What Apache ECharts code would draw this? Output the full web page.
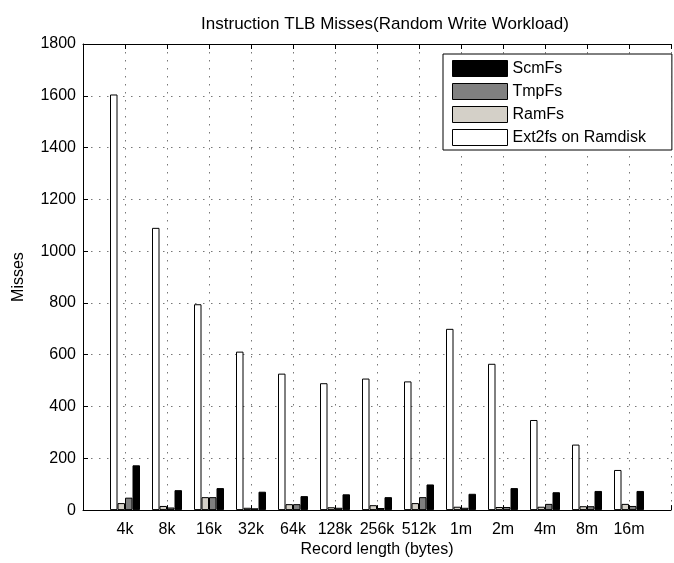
<!DOCTYPE html>
<html>
<head>
<meta charset="utf-8">
<script src="https://cdn.jsdelivr.net/npm/echarts@6/dist/echarts.min.js"></script>
<style>
  html, body { margin: 0; padding: 0; background: #fff; }
  #box { width: 674px; height: 563px; }
</style>
</head>
<body>
<div id="box"></div>
<script>
var chart = echarts.init(document.getElementById('box'));

// record sizes (blank slots pad the axis like matlab's xlim [0 14])
var categories = ['', '4k', '8k', '16k', '32k', '64k', '128k', '256k', '512k', '1m', '2m', '4m', '8m', '16m', ''];
var ext2fs = [null, 1605, 1090, 795, 612, 527, 490, 508, 497, 700, 565, 348, 253, 155, null];
var ramfs  = [null, 27, 16, 50, 9, 23, 11, 19, 27, 13, 12, 13, 15, 24, null];
var tmpfs  = [null, 48, 10, 50, 7, 23, 9, 8, 50, 9, 12, 24, 15, 16, null];
var scmfs  = [null, 173, 77, 85, 71, 54, 61, 50, 99, 63, 85, 69, 74, 74, null];
var yTicks = { min: 0, max: 1800, step: 200 };

var font = 'Liberation Sans, Arial, sans-serif';
var dotted = { color: '#777', width: 1, type: [1.5, 6.5] };

function bar(name, data, color) {
  return {
    name: name,
    type: 'bar',
    data: data,
    barWidth: 7.5,
    barGap: '0%',
    itemStyle: { color: color, borderColor: '#000', borderWidth: 1 },
    animation: false
  };
}

option = {
  animation: false,
  title: {
    text: 'Instruction TLB Misses(Random Write Workload)',
    left: 380,
    textAlign: 'center',
    top: 11,
    textStyle: { fontFamily: font, fontSize: 17, fontWeight: 'normal', color: '#000' }
  },
  legend: {
    orient: 'vertical',
    left: 443,
    top: 54,
    data: ['ScmFs', 'TmpFs', 'RamFs', 'Ext2fs on Ramdisk'],
    itemWidth: 55,
    itemHeight: 16,
    itemGap: 6,
    padding: [6, 26, 4, 9],
    borderColor: '#000',
    borderWidth: 1,
    backgroundColor: '#fff',
    itemStyle: { borderColor: '#000', borderWidth: 1 },
    textStyle: { fontFamily: font, fontSize: 16, color: '#000' },
    icon: 'rect'
  },
  grid: {
    left: 83,
    top: 44,
    right: -5,
    bottom: 48
  },
  xAxis: [{
    type: 'category',
    data: categories,
    boundaryGap: false,
    name: 'Record length (bytes)',
    nameLocation: 'middle',
    nameGap: 29,
    nameTextStyle: { fontFamily: font, fontSize: 16, color: '#000' },
    axisLine: { lineStyle: { color: '#000', width: 1 } },
    axisTick: { inside: true, length: 5, interval: 0, lineStyle: { color: '#000' } },
    axisLabel: { interval: 0, fontFamily: font, fontSize: 16, color: '#000', margin: 11 },
    splitLine: { show: true, interval: 0, lineStyle: dotted }
  }, {
    type: 'category',
    data: categories,
    boundaryGap: false,
    position: 'top',
    axisLine: { lineStyle: { color: '#000', width: 1 } },
    axisTick: { inside: true, length: 5, interval: 0, lineStyle: { color: '#000' } },
    axisLabel: { show: false },
    splitLine: { show: false }
  }],
  yAxis: {
    type: 'value',
    min: yTicks.min,
    max: yTicks.max,
    interval: yTicks.step,
    name: 'Misses',
    nameLocation: 'middle',
    nameGap: 56,
    nameTextStyle: { fontFamily: font, fontSize: 16, color: '#000' },
    axisLine: { show: true, lineStyle: { color: '#000', width: 1 } },
    axisTick: { show: true, inside: true, length: 5, lineStyle: { color: '#000' } },
    axisLabel: {
      fontFamily: font, fontSize: 16, color: '#000', margin: 7,
      formatter: function (v) { return String(v); }
    },
    splitLine: { show: true, lineStyle: dotted }
  },
  series: [
    bar('Ext2fs on Ramdisk', ext2fs, '#ffffff'),
    bar('RamFs', ramfs, '#d4d0c8'),
    bar('TmpFs', tmpfs, '#808080'),
    bar('ScmFs', scmfs, '#000000')
  ]
};

chart.setOption(option);
</script>
</body>
</html>
